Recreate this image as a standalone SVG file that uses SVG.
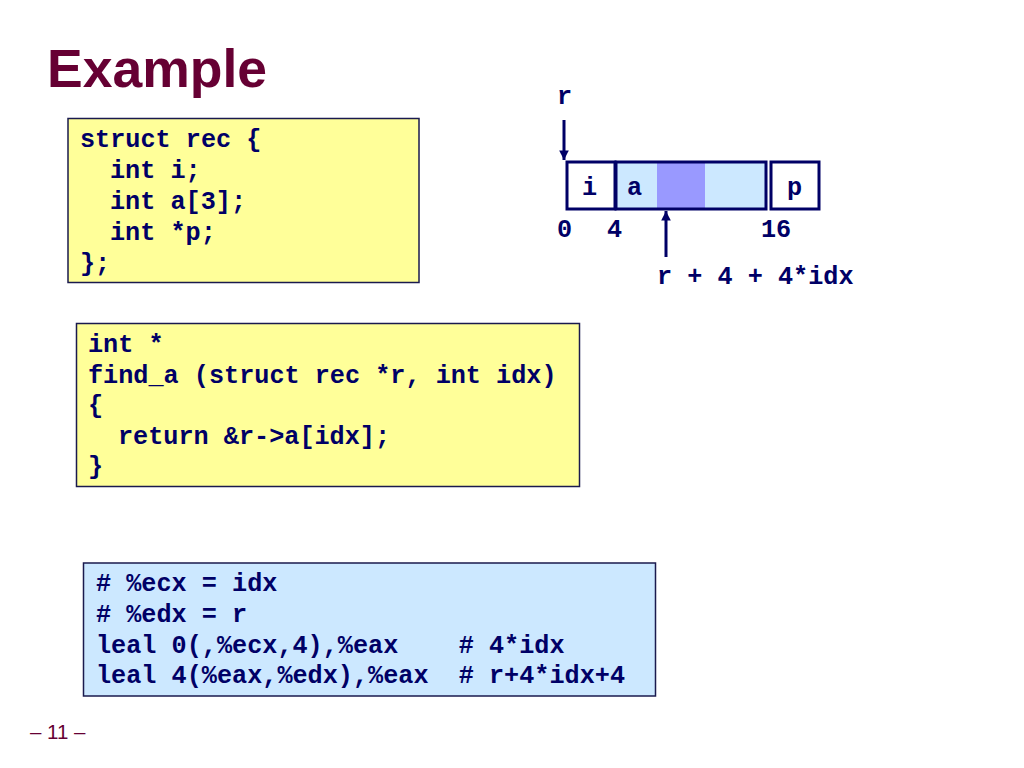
<svg xmlns="http://www.w3.org/2000/svg" width="1024" height="768" viewBox="0 0 1024 768">
<style>
.code{font-family:"Liberation Mono","Courier New",monospace;font-weight:bold;font-size:25.2px;fill:#000066}
.box{stroke:#1a1a4e;stroke-width:1.5}
.cell{stroke:#000066;stroke-width:3}
.title{font-family:"Liberation Sans",Arial,sans-serif;font-weight:bold;font-size:53.5px;fill:#660033}
.pg{font-family:"Liberation Sans",Arial,sans-serif;font-size:20.5px;fill:#660033}
.arr{stroke:#000066;stroke-width:3;fill:none}
</style>
<defs>
<marker id="ah" viewBox="0 0 10 10" refX="10" refY="5" markerWidth="3.6" markerHeight="3.2" orient="auto" markerUnits="strokeWidth">
<path d="M0,0 L10,5 L0,10 z" fill="#000066"/>
</marker>
</defs>
<rect width="1024" height="768" fill="#ffffff"/>
<text class="title" x="47" y="87">Example</text>

<g id="struct-code">
<rect class="box" x="68" y="118.5" width="351" height="164" fill="#FFFF99"/>
<text class="code" x="80" y="147">struct rec {</text>
<text class="code" x="110" y="178">int i;</text>
<text class="code" x="110" y="209">int a[3];</text>
<text class="code" x="110" y="240">int *p;</text>
<text class="code" x="80" y="271">};</text>
</g>

<g id="find-a-code">
<rect class="box" x="76.5" y="323.5" width="503" height="163" fill="#FFFF99"/>
<text class="code" x="88" y="352">int *</text>
<text class="code" x="88" y="383">find_a (struct rec *r, int idx)</text>
<text class="code" x="88" y="413">{</text>
<text class="code" x="118" y="444">return &amp;r-&gt;a[idx];</text>
<text class="code" x="88" y="474">}</text>
</g>

<g id="asm-code">
<rect class="box" x="83.5" y="563" width="572" height="133" fill="#CCE8FF"/>
<text class="code" x="96" y="591" xml:space="preserve"># %ecx = idx</text>
<text class="code" x="96" y="622" xml:space="preserve"># %edx = r</text>
<text class="code" x="96" y="653" xml:space="preserve">leal 0(,%ecx,4),%eax    # 4*idx</text>
<text class="code" x="96" y="683" xml:space="preserve">leal 4(%eax,%edx),%eax  # r+4*idx+4</text>
</g>

<g id="layout">
<rect class="cell" x="567" y="162" width="48" height="47" fill="#ffffff"/>
<rect x="616" y="162" width="150" height="47" fill="#CCE8FF"/>
<rect x="657" y="163" width="48" height="45" fill="#9999FF"/>
<rect class="cell" x="616" y="162" width="150" height="47" fill="none"/>
<rect class="cell" x="771" y="162" width="48" height="47" fill="#ffffff"/>
<text class="code" x="582" y="195">i</text>
<text class="code" x="627" y="195">a</text>
<text class="code" x="787" y="195">p</text>
<text class="code" x="557" y="104">r</text>
<text class="code" x="557" y="237">0</text>
<text class="code" x="607" y="237">4</text>
<text class="code" x="761" y="237">16</text>
<text class="code" x="657" y="284">r + 4 + 4*idx</text>
</g>

<g id="connectors">
<line class="arr" x1="564" y1="120" x2="564" y2="160" marker-end="url(#ah)"/>
<line class="arr" x1="666" y1="257" x2="666" y2="211" marker-end="url(#ah)"/>
</g>

<text class="pg" x="30" y="739">– 11 –</text>
</svg>
